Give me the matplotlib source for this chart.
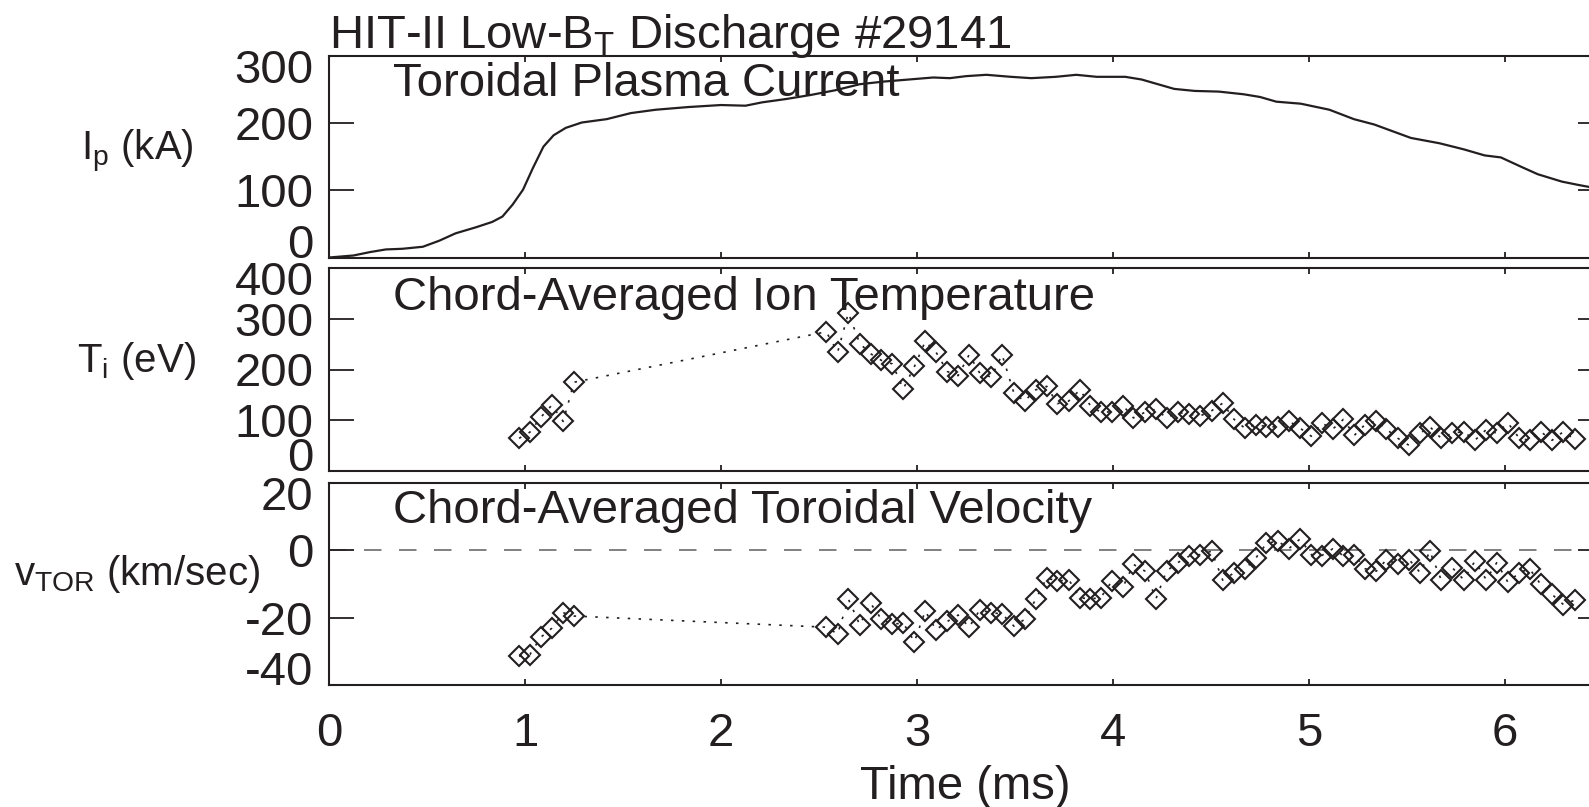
import matplotlib
matplotlib.use('Agg')
from matplotlib import pyplot as plt
from matplotlib.transforms import ScaledTranslation

# plasma current trace (ms, kA)
ip_t = [0, 0.125, 0.208, 0.29, 0.375, 0.479, 0.5625, 0.646, 0.75, 0.833, 0.885, 0.9375,
        0.99, 1.04, 1.094, 1.146, 1.208, 1.29, 1.417, 1.54, 1.667, 1.833, 2.0, 2.125,
        2.21, 2.333, 2.458, 2.583, 2.708, 2.833, 2.958, 3.083, 3.167, 3.25, 3.354, 3.479,
        3.583, 3.708, 3.8125, 3.917, 4.0625, 4.146, 4.229, 4.3125, 4.417, 4.54, 4.667,
        4.75, 4.833, 4.958, 5.104, 5.229, 5.333, 5.417, 5.52, 5.667, 5.79, 5.896, 5.979,
        6.083, 6.167, 6.29, 6.375, 6.43]
ip_ka = [0, 3, 8, 12, 13, 16, 25, 36, 45, 53, 61, 79,
         101, 133, 165, 182, 193, 201, 206, 215, 220, 224, 227, 226,
         231, 236, 242, 249, 258, 262, 265, 268, 267, 270, 272, 269,
         267, 269, 272, 269, 269, 265, 258, 251, 248, 247, 243,
         239, 232, 229, 220, 206, 198, 189, 178, 170, 161, 152, 149,
         135, 124, 113, 108, 105]

# spectroscopy time points (ms)
spec_t = [0.97, 1.025, 1.08, 1.137, 1.195, 1.25,
          2.537, 2.595, 2.65, 2.708, 2.763, 2.818, 2.874, 2.93, 2.987, 3.042,
          3.097, 3.155, 3.21, 3.266, 3.32, 3.379, 3.434,
          3.495, 3.549, 3.605, 3.662, 3.716, 3.774, 3.831, 3.885, 3.937, 3.994,
          4.052, 4.104, 4.163, 4.219, 4.273, 4.33, 4.388, 4.445, 4.503, 4.56,
          4.618, 4.672, 4.729, 4.783, 4.841, 4.896, 4.954, 5.012, 5.065, 5.121,
          5.175, 5.232, 5.286, 5.344, 5.395, 5.453, 5.511, 5.568, 5.616, 5.674,
          5.731, 5.789, 5.846, 5.904, 5.958, 6.015, 6.073, 6.125, 6.182, 6.24,
          6.298, 6.355]
ti_ev = [65, 77, 106, 130, 98, 175,
         274, 234, 311, 251, 231, 218, 211, 162, 206, 255,
         234, 196, 188, 229, 193, 185, 229,
         153, 138, 160, 167, 133, 138, 160, 129, 116, 117,
         129, 105, 116, 122, 105, 116, 112, 109, 119, 134,
         102, 85, 92, 88, 87, 99, 85, 69, 95, 83,
         102, 71, 92, 99, 83, 65, 51, 75, 88, 65,
         75, 78, 61, 82, 75, 95, 65, 61, 78, 61,
         78, 63]
vtor = [-31.4, -30.9, -25.8, -23.1, -18.5, -19.5,
        -22.8, -24.8, -14.5, -22.1, -15.7, -20.4, -21.9, -21.6, -27.1, -18.0,
        -23.6, -21.1, -19.2, -22.8, -17.7, -18.5, -18.9,
        -22.5, -20.5, -14.6, -8.2, -9.2, -8.7, -14.1, -14.4, -14.1, -9.2,
        -10.8, -4.2, -6.2, -14.4, -6.2, -3.7, -1.8, -1.3, -0.3, -8.9,
        -6.7, -5.7, -2.3, 2.0, 2.7, 0.4, 3.3, -1.3, -1.6, 0.4,
        -1.6, -1.3, -5.5, -6.2, -2.8, -4.2, -2.8, -6.7, -0.3, -8.7,
        -5.2, -8.7, -3.3, -8.7, -3.7, -9.5, -6.7, -5.5, -10.1, -13.1,
        -16.1, -14.8]

x_ticks = [0, 1, 2, 3, 4, 5, 6]
ip_ticks = [0, 100, 200, 300]
ti_ticks = [0, 100, 200, 300, 400]
v_ticks = [-40, -20, 0, 20]

plt.rcParams['font.family'] = ['Liberation Sans', 'DejaVu Sans']
plt.rcParams['mathtext.default'] = 'regular'
plt.rcParams['axes.unicode_minus'] = False

ink = '#231f20'
fs = 34
lfs = 29
W, H = 1589, 807

fig = plt.figure(figsize=(W / 100, H / 100), dpi=100)


def panel(top, bottom):
    ax = fig.add_axes([329 / W, 1 - bottom / H, 1274 / W, (bottom - top) / H])
    for s in ax.spines.values():
        s.set_linewidth(1.5)
        s.set_color(ink)
    ax.tick_params(direction='in', top=True, right=True, labelsize=fs, colors=ink)
    ax.tick_params(axis='y', length=18, width=1.3, pad=11)
    ax.tick_params(axis='x', length=4, width=1.3, pad=19.5)
    ax.set_xlim(0, 6.5)
    ax.set_xticks(x_ticks)
    return ax


def edge_labels(ax):
    # keep the end labels inside the panel, like the original
    labs = ax.get_yticklabels()
    labs[0].set_va('baseline')
    labs[-1].set_va('top')
    labs[-1].set_transform(labs[-1].get_transform()
                           + ScaledTranslation(0, 7 / 100, fig.dpi_scale_trans))


ax1 = panel(56, 257.5)
ax2 = panel(267.6, 471.4)
ax3 = panel(482.6, 685.3)

ax1.plot(ip_t, ip_ka, color=ink, lw=1.6)
ax1.set_ylim(0, 300)
ax1.set_yticks(ip_ticks)
ax1.set_xticklabels([])
edge_labels(ax1)

mk = dict(color=ink, lw=1.2, linestyle=(0, (1.5, 5)), marker='D', ms=10,
          mfc='none', mec=ink, mew=1.5)

ax2.plot(spec_t, ti_ev, **mk)
ax2.set_ylim(0, 400)
ax2.set_yticks(ti_ticks)
ax2.set_xticklabels([])
edge_labels(ax2)

ax3.axhline(0, color='#808080', lw=1.4, dashes=(9, 9), zorder=1)
ax3.plot(spec_t, vtor, zorder=2, **mk)
ax3.set_ylim(-40, 20)
ax3.set_yticks(v_ticks)
edge_labels(ax3)

ax1.text(0.327, 0.80, 'Toroidal Plasma Current', transform=ax1.get_xaxis_transform(),
         fontsize=fs, color=ink, va='baseline')
ax2.text(0.327, 0.792, 'Chord-Averaged Ion Temperature', transform=ax2.get_xaxis_transform(),
         fontsize=fs, color=ink, va='baseline')
ax3.text(0.327, 0.80, 'Chord-Averaged Toroidal Velocity', transform=ax3.get_xaxis_transform(),
         fontsize=fs, color=ink, va='baseline')

fig.text(137 / W, 1 - 160 / H, r'I$_p$ (kA)', fontsize=lfs, color=ink, ha='center', va='baseline')
fig.text(137 / W, 1 - 372 / H, r'T$_i$ (eV)', fontsize=lfs, color=ink, ha='center', va='baseline')
fig.text(137 / W, 1 - 585 / H, r'v$_{TOR}$ (km/sec)', fontsize=lfs, color=ink, ha='center',
         va='baseline')

fig.text(329 / W, 1 - 47.6 / H, r'HIT-II Low-B$_T$ Discharge #29141', fontsize=fs, color=ink,
         va='baseline')
fig.text(965 / W, 1 - 799 / H, 'Time (ms)', fontsize=fs, color=ink, ha='center', va='baseline')

fig.savefig('out.png', dpi=100)
